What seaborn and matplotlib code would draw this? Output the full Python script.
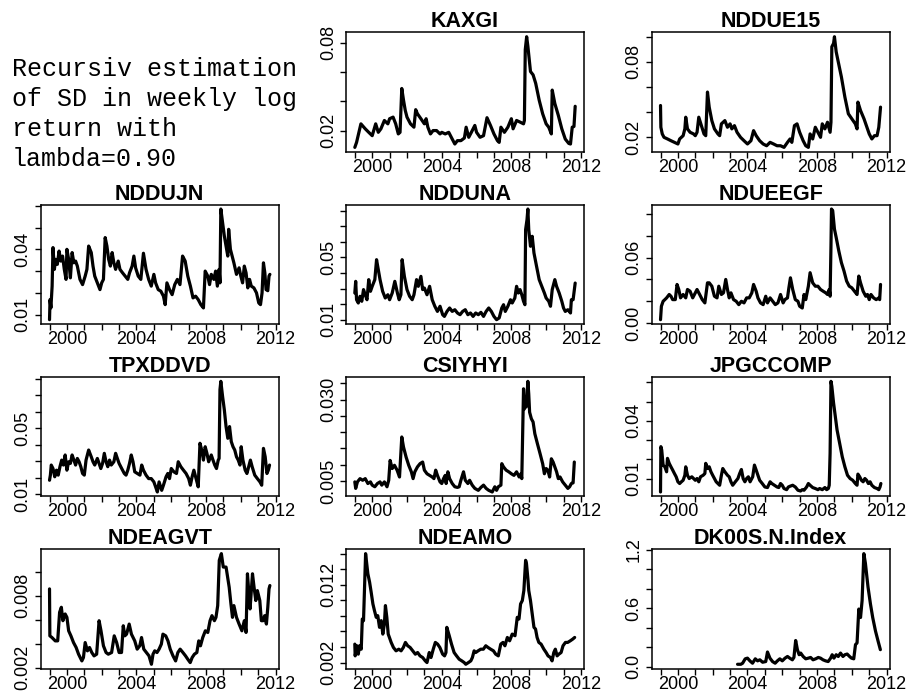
import numpy as np
import pandas as pd
import matplotlib
matplotlib.use("Agg")
import matplotlib.pyplot as plt
import seaborn as sns

# ---------------- data (decimal year, recursive SD) ----------------
KAXGI = [(1999.0,0.0085),(1999.1,0.0119),(1999.35,0.0246),(1999.6,0.0212),(1999.8,0.0188),(2000.0,0.0165),(2000.2,0.0246),(2000.35,0.0188),(2000.5,0.0212),(2000.7,0.0269),(2000.9,0.0246),(2001.0,0.0281),(2001.2,0.0292),(2001.35,0.0246),(2001.5,0.0177),(2001.6,0.0188),(2001.7,0.0488),(2001.8,0.0408),(2001.9,0.0338),(2002.0,0.0292),(2002.2,0.0246),(2002.4,0.0223),(2002.5,0.0343),(2002.6,0.0315),(2002.8,0.0281),(2003.0,0.0246),(2003.1,0.0281),(2003.2,0.0223),(2003.35,0.0177),(2003.5,0.0200),(2003.7,0.0200),(2003.9,0.0177),(2004.0,0.0188),(2004.2,0.0177),(2004.4,0.0188),(2004.6,0.0142),(2004.75,0.0108),(2004.9,0.0131),(2005.1,0.0131),(2005.3,0.0149),(2005.4,0.0223),(2005.55,0.0154),(2005.7,0.0188),(2005.9,0.0235),(2006.0,0.0188),(2006.2,0.0154),(2006.4,0.0165),(2006.6,0.0288),(2006.8,0.0235),(2007.0,0.0177),(2007.2,0.0131),(2007.3,0.0119),(2007.4,0.0223),(2007.6,0.0188),(2007.8,0.0223),(2008.0,0.0281),(2008.1,0.0212),(2008.3,0.0269),(2008.5,0.0258),(2008.7,0.0246),(2008.75,0.0269),(2008.8,0.0754),(2008.88,0.0842),(2008.95,0.0777),(2009.1,0.0604),(2009.25,0.0581),(2009.4,0.0523),(2009.6,0.0408),(2009.8,0.0315),(2010.0,0.0246),(2010.15,0.0223),(2010.3,0.0177),(2010.35,0.0477),(2010.5,0.0385),(2010.7,0.0304),(2010.9,0.0212),(2011.1,0.0142),(2011.3,0.0112),(2011.4,0.0108),(2011.5,0.0223),(2011.6,0.0228),(2011.67,0.0366)]

NDDUE15 = [(1999.0,0.0453),(1999.02,0.028),(1999.1,0.0227),(1999.2,0.020),(1999.4,0.0187),(1999.6,0.0173),(1999.8,0.016),(2000.0,0.0147),(2000.1,0.0187),(2000.3,0.0213),(2000.4,0.0267),(2000.45,0.036),(2000.55,0.0267),(2000.7,0.024),(2000.9,0.0227),(2001.0,0.0213),(2001.1,0.024),(2001.2,0.036),(2001.35,0.0293),(2001.5,0.0227),(2001.6,0.0213),(2001.7,0.056),(2001.8,0.044),(2001.95,0.0333),(2002.1,0.0267),(2002.3,0.0227),(2002.4,0.0213),(2002.5,0.0307),(2002.7,0.0333),(2002.85,0.028),(2003.0,0.0307),(2003.1,0.0267),(2003.25,0.0293),(2003.4,0.024),(2003.6,0.020),(2003.8,0.0173),(2004.0,0.0147),(2004.2,0.0173),(2004.35,0.0253),(2004.5,0.0213),(2004.7,0.0173),(2004.9,0.0147),(2005.1,0.0133),(2005.3,0.016),(2005.5,0.0147),(2005.7,0.0133),(2005.9,0.0133),(2006.1,0.012),(2006.3,0.016),(2006.45,0.0187),(2006.55,0.016),(2006.7,0.0293),(2006.85,0.0307),(2007.0,0.024),(2007.2,0.0173),(2007.35,0.0133),(2007.5,0.012),(2007.6,0.0227),(2007.75,0.0187),(2007.9,0.028),(2008.05,0.024),(2008.2,0.020),(2008.3,0.0307),(2008.45,0.0267),(2008.6,0.032),(2008.75,0.024),(2008.8,0.032),(2008.85,0.092),(2008.95,0.0947),(2009.0,0.100),(2009.1,0.088),(2009.2,0.0813),(2009.4,0.068),(2009.6,0.052),(2009.8,0.0387),(2010.0,0.0347),(2010.2,0.0307),(2010.3,0.0267),(2010.35,0.048),(2010.5,0.0413),(2010.7,0.0347),(2010.9,0.0267),(2011.0,0.0227),(2011.15,0.0187),(2011.3,0.0213),(2011.45,0.0213),(2011.55,0.028),(2011.65,0.044)]

NDDUJN = [(1999.0,0.0077),(1999.03,0.0169),(1999.08,0.0131),(1999.15,0.0231),(1999.2,0.0408),(1999.28,0.0308),(1999.35,0.0354),(1999.45,0.0331),(1999.55,0.0392),(1999.65,0.0346),(1999.75,0.0369),(1999.85,0.0308),(1999.95,0.0262),(2000.0,0.040),(2000.1,0.0354),(2000.2,0.0269),(2000.3,0.0385),(2000.4,0.0338),(2000.5,0.0346),(2000.6,0.0323),(2000.75,0.0262),(2000.9,0.0238),(2001.05,0.0277),(2001.15,0.0308),(2001.25,0.0415),(2001.4,0.0385),(2001.5,0.0323),(2001.6,0.0277),(2001.75,0.0246),(2001.9,0.0215),(2002.0,0.0246),(2002.1,0.0262),(2002.2,0.0454),(2002.3,0.0415),(2002.4,0.0354),(2002.5,0.0323),(2002.6,0.0385),(2002.7,0.0338),(2002.8,0.0308),(2002.95,0.0346),(2003.05,0.0308),(2003.2,0.0292),(2003.35,0.0277),(2003.5,0.0262),(2003.6,0.0292),(2003.75,0.0323),(2003.85,0.0369),(2003.95,0.0315),(2004.1,0.0277),(2004.25,0.0262),(2004.4,0.0382),(2004.55,0.0308),(2004.7,0.0262),(2004.85,0.0231),(2005.0,0.0285),(2005.1,0.0246),(2005.25,0.0215),(2005.4,0.0208),(2005.55,0.0185),(2005.65,0.0146),(2005.75,0.0246),(2005.9,0.0215),(2006.05,0.0192),(2006.2,0.0238),(2006.35,0.0262),(2006.5,0.0238),(2006.65,0.0369),(2006.8,0.0346),(2006.95,0.0277),(2007.1,0.0231),(2007.25,0.0177),(2007.4,0.0185),(2007.55,0.0169),(2007.7,0.0146),(2007.85,0.0131),(2007.95,0.030),(2008.1,0.0277),(2008.2,0.0238),(2008.3,0.0285),(2008.45,0.0262),(2008.55,0.030),(2008.65,0.0231),(2008.75,0.0308),(2008.8,0.0246),(2008.85,0.0585),(2008.95,0.0523),(2009.05,0.0462),(2009.15,0.0415),(2009.25,0.0369),(2009.3,0.0492),(2009.4,0.040),(2009.5,0.0369),(2009.6,0.0338),(2009.75,0.0285),(2009.9,0.0315),(2010.0,0.0277),(2010.1,0.0246),(2010.2,0.0323),(2010.3,0.0292),(2010.4,0.0223),(2010.5,0.0262),(2010.6,0.0231),(2010.75,0.0223),(2010.9,0.020),(2011.03,0.0154),(2011.13,0.0146),(2011.22,0.020),(2011.3,0.0338),(2011.38,0.0292),(2011.45,0.0215),(2011.55,0.021),(2011.62,0.0277),(2011.67,0.0285)]

NDDUNA = [(1999.0,0.0271),(1999.05,0.0346),(1999.1,0.0228),(1999.2,0.0207),(1999.3,0.025),(1999.4,0.0218),(1999.5,0.0293),(1999.6,0.026),(1999.7,0.0228),(1999.8,0.0357),(1999.9,0.0282),(2000.0,0.0314),(2000.15,0.0357),(2000.25,0.0485),(2000.35,0.0421),(2000.45,0.0357),(2000.6,0.0282),(2000.75,0.0239),(2000.9,0.026),(2001.0,0.0228),(2001.15,0.0271),(2001.3,0.0346),(2001.45,0.0271),(2001.55,0.0228),(2001.65,0.026),(2001.72,0.0485),(2001.85,0.0378),(2002.0,0.0293),(2002.15,0.025),(2002.3,0.0228),(2002.4,0.026),(2002.55,0.0357),(2002.65,0.0314),(2002.8,0.0378),(2002.9,0.0293),(2003.0,0.0303),(2003.15,0.026),(2003.3,0.0314),(2003.45,0.0228),(2003.6,0.0186),(2003.75,0.0153),(2003.9,0.0186),(2004.05,0.0132),(2004.15,0.0121),(2004.3,0.0153),(2004.45,0.0175),(2004.6,0.0153),(2004.75,0.0164),(2004.9,0.0143),(2005.05,0.0132),(2005.2,0.0153),(2005.35,0.0164),(2005.5,0.0132),(2005.65,0.0143),(2005.8,0.0121),(2005.95,0.0143),(2006.1,0.0132),(2006.25,0.0147),(2006.4,0.0121),(2006.55,0.0153),(2006.7,0.0175),(2006.85,0.0153),(2007.0,0.0121),(2007.15,0.010),(2007.3,0.0111),(2007.45,0.0175),(2007.55,0.0196),(2007.65,0.0153),(2007.8,0.0186),(2007.95,0.0228),(2008.05,0.0207),(2008.2,0.0239),(2008.3,0.0314),(2008.4,0.0271),(2008.5,0.0293),(2008.6,0.026),(2008.7,0.0218),(2008.78,0.0196),(2008.82,0.0678),(2008.9,0.0742),(2008.95,0.081),(2009.0,0.0678),(2009.1,0.0571),(2009.2,0.0635),(2009.3,0.0528),(2009.45,0.0442),(2009.6,0.0357),(2009.75,0.0314),(2009.9,0.0271),(2010.0,0.0239),(2010.15,0.0218),(2010.25,0.0186),(2010.35,0.0293),(2010.5,0.0357),(2010.6,0.0314),(2010.75,0.0271),(2010.9,0.0218),(2011.0,0.0175),(2011.1,0.0153),(2011.25,0.0164),(2011.4,0.0143),(2011.45,0.0228),(2011.55,0.0228),(2011.67,0.0335)]

NDUEEGF = [(1999.0,0.0031),(1999.05,0.0154),(1999.15,0.020),(1999.25,0.0215),(1999.35,0.0231),(1999.5,0.0262),(1999.6,0.0246),(1999.7,0.0215),(1999.85,0.0215),(1999.95,0.0354),(2000.05,0.0308),(2000.15,0.0231),(2000.3,0.0262),(2000.45,0.0231),(2000.55,0.0308),(2000.7,0.0292),(2000.85,0.0231),(2001.0,0.0277),(2001.1,0.0308),(2001.25,0.0262),(2001.4,0.0215),(2001.55,0.0185),(2001.7,0.0369),(2001.8,0.0369),(2001.95,0.0338),(2002.1,0.0246),(2002.25,0.0231),(2002.35,0.0338),(2002.5,0.0262),(2002.62,0.0277),(2002.75,0.040),(2002.85,0.0308),(2002.95,0.0231),(2003.05,0.0277),(2003.2,0.0215),(2003.35,0.020),(2003.5,0.0169),(2003.65,0.020),(2003.8,0.0185),(2003.95,0.0231),(2004.1,0.0231),(2004.25,0.0277),(2004.35,0.0354),(2004.5,0.0292),(2004.6,0.0231),(2004.75,0.0185),(2004.9,0.0169),(2005.05,0.0246),(2005.15,0.0185),(2005.3,0.0231),(2005.45,0.020),(2005.6,0.0169),(2005.75,0.0185),(2005.9,0.0262),(2006.05,0.0185),(2006.15,0.0215),(2006.3,0.0231),(2006.38,0.0323),(2006.47,0.0415),(2006.6,0.0308),(2006.75,0.0215),(2006.9,0.0200),(2007.0,0.0154),(2007.15,0.0138),(2007.25,0.0262),(2007.35,0.0215),(2007.5,0.0338),(2007.6,0.0462),(2007.75,0.0369),(2007.9,0.0338),(2008.05,0.0338),(2008.2,0.0308),(2008.35,0.0292),(2008.5,0.0277),(2008.6,0.0262),(2008.7,0.0308),(2008.75,0.0246),(2008.8,0.0708),(2008.83,0.1046),(2008.9,0.1031),(2009.0,0.0862),(2009.1,0.0785),(2009.25,0.0662),(2009.4,0.0554),(2009.55,0.0477),(2009.7,0.0385),(2009.85,0.0338),(2010.0,0.0323),(2010.15,0.0292),(2010.3,0.0262),(2010.4,0.0431),(2010.5,0.0369),(2010.65,0.0292),(2010.8,0.0246),(2010.9,0.0262),(2011.0,0.0215),(2011.1,0.0262),(2011.25,0.0231),(2011.4,0.0215),(2011.55,0.0231),(2011.6,0.0215),(2011.65,0.0354)]

TPXDDVD = [(1999.0,0.0185),(1999.05,0.0216),(1999.1,0.0277),(1999.2,0.0256),(1999.3,0.0206),(1999.4,0.0246),(1999.5,0.0216),(1999.6,0.0267),(1999.7,0.0307),(1999.8,0.0277),(1999.9,0.0338),(2000.0,0.0246),(2000.1,0.0297),(2000.2,0.0287),(2000.3,0.0338),(2000.4,0.0307),(2000.5,0.0277),(2000.6,0.0317),(2000.7,0.0297),(2000.8,0.0267),(2000.9,0.0226),(2001.0,0.0216),(2001.1,0.0307),(2001.2,0.0348),(2001.25,0.0368),(2001.4,0.0327),(2001.5,0.0297),(2001.6,0.0277),(2001.75,0.0317),(2001.85,0.0287),(2001.95,0.0256),(2002.05,0.0287),(2002.15,0.0348),(2002.25,0.0297),(2002.35,0.0267),(2002.45,0.0307),(2002.55,0.0277),(2002.7,0.0297),(2002.8,0.0348),(2002.9,0.0317),(2003.0,0.0287),(2003.15,0.0256),(2003.3,0.0226),(2003.4,0.0216),(2003.5,0.0246),(2003.6,0.0287),(2003.7,0.0338),(2003.8,0.0297),(2003.9,0.0236),(2004.05,0.0226),(2004.2,0.0216),(2004.3,0.0277),(2004.4,0.0246),(2004.55,0.0216),(2004.7,0.0195),(2004.85,0.0195),(2005.0,0.0175),(2005.1,0.0145),(2005.2,0.0114),(2005.3,0.0175),(2005.45,0.0124),(2005.55,0.0155),(2005.7,0.0206),(2005.8,0.0226),(2005.9,0.0195),(2006.0,0.0256),(2006.15,0.0236),(2006.3,0.0226),(2006.4,0.0297),(2006.55,0.0267),(2006.7,0.0246),(2006.85,0.0226),(2007.0,0.0195),(2007.1,0.0155),(2007.2,0.0206),(2007.3,0.0246),(2007.45,0.0185),(2007.55,0.0145),(2007.65,0.0409),(2007.75,0.0368),(2007.85,0.0307),(2007.95,0.0388),(2008.05,0.0348),(2008.15,0.0297),(2008.3,0.0338),(2008.4,0.0307),(2008.5,0.0277),(2008.6,0.0256),(2008.7,0.0307),(2008.75,0.0317),(2008.8,0.0734),(2008.85,0.0784),(2008.95,0.0693),(2009.05,0.0612),(2009.15,0.051),(2009.25,0.0439),(2009.35,0.051),(2009.45,0.0419),(2009.55,0.0388),(2009.65,0.0368),(2009.75,0.0327),(2009.85,0.0307),(2009.95,0.0277),(2010.02,0.0388),(2010.12,0.0307),(2010.25,0.0246),(2010.35,0.0226),(2010.55,0.0307),(2010.65,0.0267),(2010.8,0.0216),(2010.95,0.0195),(2011.1,0.0175),(2011.2,0.0155),(2011.3,0.0378),(2011.4,0.0327),(2011.5,0.0226),(2011.58,0.0246),(2011.65,0.0277)]

CSIYHYI = [(1999.0,0.0047),(1999.05,0.0027),(1999.15,0.0047),(1999.3,0.0057),(1999.45,0.0052),(1999.6,0.0057),(1999.75,0.0042),(1999.9,0.0047),(2000.0,0.0037),(2000.15,0.0032),(2000.3,0.0042),(2000.45,0.0047),(2000.55,0.0037),(2000.7,0.0047),(2000.85,0.0032),(2000.95,0.0052),(2001.03,0.0113),(2001.15,0.0088),(2001.28,0.0098),(2001.43,0.0083),(2001.57,0.0062),(2001.7,0.0185),(2001.8,0.0154),(2001.95,0.0123),(2002.1,0.0098),(2002.25,0.0078),(2002.35,0.0057),(2002.45,0.0078),(2002.6,0.0093),(2002.75,0.0103),(2002.9,0.0108),(2003.0,0.0083),(2003.15,0.0072),(2003.3,0.0067),(2003.45,0.0062),(2003.55,0.0057),(2003.65,0.0083),(2003.75,0.0067),(2003.9,0.0047),(2004.0,0.0042),(2004.1,0.0057),(2004.2,0.0067),(2004.25,0.0042),(2004.35,0.0078),(2004.45,0.0057),(2004.6,0.0042),(2004.75,0.0032),(2004.9,0.0030),(2005.0,0.0032),(2005.1,0.0052),(2005.25,0.0078),(2005.35,0.0052),(2005.5,0.0042),(2005.6,0.0052),(2005.75,0.0037),(2005.9,0.0027),(2006.1,0.0021),(2006.25,0.0030),(2006.4,0.0037),(2006.55,0.0027),(2006.7,0.0021),(2006.9,0.0016),(2007.05,0.0032),(2007.15,0.0021),(2007.25,0.0032),(2007.4,0.0037),(2007.45,0.0103),(2007.55,0.0093),(2007.7,0.0083),(2007.85,0.0078),(2008.0,0.0072),(2008.15,0.0067),(2008.3,0.0078),(2008.45,0.0062),(2008.55,0.0072),(2008.6,0.0057),(2008.7,0.0333),(2008.75,0.0271),(2008.8,0.0307),(2008.85,0.0277),(2008.9,0.0312),(2008.95,0.0356),(2009.0,0.0317),(2009.05,0.0261),(2009.15,0.0241),(2009.25,0.0231),(2009.35,0.0195),(2009.5,0.0164),(2009.65,0.0134),(2009.8,0.0103),(2009.9,0.0072),(2010.0,0.0088),(2010.1,0.0083),(2010.2,0.0062),(2010.3,0.0118),(2010.4,0.0108),(2010.5,0.0093),(2010.6,0.0078),(2010.7,0.0057),(2010.8,0.0062),(2010.95,0.0047),(2011.1,0.0037),(2011.25,0.0027),(2011.35,0.0032),(2011.45,0.0042),(2011.55,0.0044),(2011.62,0.0108)]

JPGCCOMP = [(1999.0,0.0030),(1999.02,0.0266),(1999.07,0.0248),(1999.15,0.0170),(1999.25,0.0161),(1999.35,0.0135),(1999.4,0.0205),(1999.5,0.0179),(1999.6,0.0161),(1999.7,0.0144),(1999.8,0.0126),(1999.9,0.0109),(2000.0,0.0083),(2000.1,0.0074),(2000.2,0.0083),(2000.3,0.0091),(2000.4,0.0117),(2000.45,0.0161),(2000.55,0.0117),(2000.65,0.0100),(2000.8,0.0109),(2000.9,0.0100),(2001.0,0.0091),(2001.1,0.0100),(2001.2,0.0083),(2001.3,0.0109),(2001.45,0.0117),(2001.55,0.0126),(2001.6,0.0179),(2001.7,0.0152),(2001.8,0.0161),(2001.9,0.0135),(2002.0,0.0117),(2002.1,0.0100),(2002.2,0.0083),(2002.3,0.0074),(2002.4,0.0065),(2002.5,0.0117),(2002.58,0.0152),(2002.7,0.0135),(2002.85,0.0117),(2002.95,0.0109),(2003.05,0.0083),(2003.15,0.0065),(2003.3,0.0083),(2003.45,0.0100),(2003.55,0.0126),(2003.65,0.0147),(2003.75,0.0100),(2003.85,0.0083),(2003.95,0.0100),(2004.05,0.0109),(2004.15,0.0083),(2004.3,0.0109),(2004.4,0.0170),(2004.5,0.0144),(2004.6,0.0117),(2004.7,0.0091),(2004.85,0.0074),(2005.0,0.0056),(2005.15,0.0053),(2005.3,0.0083),(2005.4,0.0074),(2005.55,0.0065),(2005.7,0.0056),(2005.8,0.0053),(2005.9,0.0074),(2006.0,0.0065),(2006.1,0.0048),(2006.25,0.0042),(2006.35,0.0056),(2006.45,0.0060),(2006.6,0.0065),(2006.75,0.0056),(2006.9,0.0039),(2007.05,0.0035),(2007.15,0.0042),(2007.25,0.0039),(2007.4,0.0056),(2007.5,0.0074),(2007.6,0.0065),(2007.75,0.0053),(2007.9,0.0048),(2008.05,0.0042),(2008.15,0.0048),(2008.3,0.0042),(2008.45,0.0053),(2008.55,0.0042),(2008.65,0.0048),(2008.7,0.0065),(2008.75,0.0231),(2008.8,0.0606),(2008.85,0.0580),(2008.95,0.0493),(2009.05,0.0423),(2009.15,0.0353),(2009.3,0.0283),(2009.45,0.0213),(2009.6,0.0161),(2009.75,0.0117),(2009.9,0.0100),(2010.05,0.0091),(2010.2,0.0074),(2010.3,0.0065),(2010.35,0.0123),(2010.45,0.0109),(2010.55,0.0091),(2010.65,0.0083),(2010.75,0.0100),(2010.85,0.0091),(2010.95,0.0074),(2011.05,0.0083),(2011.15,0.0065),(2011.3,0.0053),(2011.45,0.0048),(2011.55,0.0042),(2011.62,0.0056),(2011.67,0.0074)]

NDEAGVT = [(1999.0,0.00856),(1999.02,0.00465),(1999.14,0.00451),(1999.33,0.00423),(1999.47,0.00423),(1999.58,0.00661),(1999.68,0.00703),(1999.77,0.00591),(1999.9,0.00647),(2000.0,0.00619),(2000.1,0.00507),(2000.23,0.00465),(2000.38,0.00409),(2000.53,0.00368),(2000.67,0.00312),(2000.86,0.00256),(2000.95,0.00284),(2001.05,0.00409),(2001.18,0.00340),(2001.3,0.00368),(2001.43,0.00326),(2001.56,0.00298),(2001.71,0.00312),(2001.85,0.00591),(2001.96,0.00507),(2002.1,0.00382),(2002.25,0.00326),(2002.38,0.00312),(2002.57,0.00326),(2002.72,0.00465),(2002.86,0.00409),(2003.0,0.00326),(2003.14,0.00326),(2003.24,0.00549),(2003.33,0.00465),(2003.43,0.00479),(2003.58,0.00563),(2003.71,0.00479),(2003.9,0.00423),(2004.04,0.00354),(2004.19,0.00382),(2004.29,0.00451),(2004.42,0.00354),(2004.57,0.00326),(2004.72,0.00298),(2004.86,0.00228),(2004.95,0.00312),(2005.05,0.00340),(2005.18,0.00326),(2005.3,0.00354),(2005.43,0.00396),(2005.52,0.00479),(2005.68,0.00465),(2005.81,0.00423),(2005.94,0.00354),(2006.1,0.00298),(2006.25,0.00256),(2006.38,0.00326),(2006.51,0.00354),(2006.67,0.00326),(2006.82,0.00298),(2006.95,0.00270),(2007.09,0.00242),(2007.2,0.00284),(2007.33,0.00312),(2007.47,0.00326),(2007.58,0.00423),(2007.68,0.00382),(2007.81,0.00451),(2007.96,0.00507),(2008.1,0.00493),(2008.23,0.00591),(2008.34,0.00633),(2008.48,0.00591),(2008.57,0.00619),(2008.67,0.00717),(2008.76,0.01094),(2008.88,0.01150),(2008.99,0.01038),(2009.15,0.01038),(2009.33,0.00870),(2009.43,0.00731),(2009.52,0.00619),(2009.6,0.00717),(2009.75,0.00619),(2009.9,0.00563),(2010.06,0.00507),(2010.2,0.00591),(2010.3,0.00493),(2010.38,0.00982),(2010.48,0.00787),(2010.53,0.00689),(2010.67,0.00982),(2010.76,0.00870),(2010.86,0.00759),(2010.95,0.00842),(2011.09,0.00759),(2011.18,0.00591),(2011.28,0.00591),(2011.37,0.00633),(2011.47,0.00563),(2011.55,0.00703),(2011.62,0.00856),(2011.67,0.00884)]

NDEAMO = [(1999.0,0.00437),(1999.02,0.00286),(1999.12,0.00416),(1999.2,0.00308),(1999.27,0.00416),(1999.37,0.00372),(1999.43,0.00760),(1999.5,0.00739),(1999.62,0.01601),(1999.75,0.01342),(1999.85,0.01234),(1999.94,0.01105),(2000.04,0.00954),(2000.13,0.00868),(2000.23,0.00782),(2000.32,0.00803),(2000.42,0.00653),(2000.52,0.00739),(2000.61,0.00566),(2000.7,0.00696),(2000.76,0.00933),(2000.84,0.00782),(2000.92,0.00566),(2000.99,0.00523),(2001.09,0.00459),(2001.22,0.00394),(2001.37,0.00351),(2001.53,0.00372),(2001.66,0.00351),(2001.79,0.00394),(2001.91,0.00459),(2002.04,0.00416),(2002.18,0.00394),(2002.33,0.00351),(2002.48,0.00308),(2002.61,0.00329),(2002.75,0.00286),(2002.9,0.00265),(2003.05,0.00222),(2003.15,0.00200),(2003.28,0.00329),(2003.38,0.00265),(2003.51,0.00372),(2003.63,0.00459),(2003.76,0.00437),(2003.89,0.00394),(2004.05,0.00308),(2004.16,0.00286),(2004.24,0.00329),(2004.29,0.00653),(2004.43,0.00545),(2004.56,0.00437),(2004.71,0.00329),(2004.85,0.00286),(2005.0,0.00243),(2005.15,0.00222),(2005.29,0.00200),(2005.38,0.00178),(2005.53,0.00200),(2005.67,0.00222),(2005.76,0.00265),(2005.86,0.00351),(2005.95,0.00329),(2006.09,0.00351),(2006.24,0.00372),(2006.39,0.00372),(2006.53,0.00416),(2006.66,0.00394),(2006.81,0.00372),(2006.97,0.00351),(2007.1,0.00308),(2007.25,0.00286),(2007.39,0.00437),(2007.52,0.00459),(2007.63,0.00416),(2007.77,0.00523),(2007.9,0.00480),(2008.05,0.00566),(2008.21,0.00545),(2008.34,0.00782),(2008.44,0.00760),(2008.53,0.00954),(2008.63,0.00997),(2008.72,0.01127),(2008.82,0.01515),(2008.87,0.01472),(2008.95,0.01278),(2009.0,0.01127),(2009.1,0.00997),(2009.2,0.00825),(2009.3,0.00653),(2009.39,0.00631),(2009.48,0.00523),(2009.58,0.00459),(2009.71,0.00437),(2009.87,0.00372),(2010.0,0.00329),(2010.11,0.00286),(2010.25,0.00265),(2010.34,0.00222),(2010.44,0.00329),(2010.53,0.00372),(2010.63,0.00286),(2010.73,0.00308),(2010.86,0.00329),(2010.97,0.00416),(2011.11,0.00459),(2011.24,0.00459),(2011.39,0.00480),(2011.53,0.00502),(2011.64,0.00523)]

DK00S = [(2003.43,0.024),(2003.62,0.024),(2003.72,0.035),(2003.87,0.080),(2004.0,0.087),(2004.14,0.059),(2004.29,0.035),(2004.45,0.080),(2004.58,0.059),(2004.71,0.070),(2004.87,0.045),(2005.05,0.052),(2005.15,0.150),(2005.29,0.087),(2005.44,0.052),(2005.59,0.035),(2005.72,0.059),(2005.86,0.080),(2006.0,0.059),(2006.16,0.087),(2006.3,0.104),(2006.43,0.087),(2006.58,0.070),(2006.67,0.094),(2006.77,0.268),(2006.87,0.174),(2006.97,0.122),(2007.06,0.139),(2007.2,0.104),(2007.35,0.080),(2007.5,0.087),(2007.63,0.094),(2007.77,0.070),(2007.92,0.080),(2008.07,0.094),(2008.2,0.087),(2008.34,0.070),(2008.49,0.059),(2008.64,0.052),(2008.78,0.087),(2008.87,0.122),(2008.97,0.087),(2009.1,0.122),(2009.22,0.104),(2009.35,0.139),(2009.49,0.104),(2009.6,0.122),(2009.73,0.129),(2009.87,0.104),(2009.98,0.087),(2010.11,0.080),(2010.21,0.226),(2010.3,0.243),(2010.4,0.591),(2010.5,0.504),(2010.59,0.678),(2010.69,1.160),(2010.78,1.061),(2010.93,0.817),(2011.07,0.643),(2011.2,0.504),(2011.36,0.365),(2011.51,0.261),(2011.64,0.174)]

titles = ["KAXGI", "NDDUE15", "NDDUJN", "NDDUNA", "NDUEEGF", "TPXDDVD",
          "CSIYHYI", "JPGCCOMP", "NDEAGVT", "NDEAMO", "DK00S.N.Index"]
series = [KAXGI, NDDUE15, NDDUJN, NDDUNA, NDUEEGF, TPXDDVD,
          CSIYHYI, JPGCCOMP, NDEAGVT, NDEAMO, DK00S]
y_ticks = [
    [0.02, 0.04, 0.06, 0.08],
    [0.02, 0.04, 0.06, 0.08, 0.10],
    [0.01, 0.02, 0.03, 0.04, 0.05, 0.06],
    [0.01, 0.02, 0.03, 0.04, 0.05, 0.06, 0.07, 0.08],
    [0.00, 0.02, 0.04, 0.06, 0.08, 0.10],
    [0.01, 0.02, 0.03, 0.04, 0.05, 0.06, 0.07, 0.08],
    [0.005, 0.010, 0.015, 0.020, 0.025, 0.030, 0.035],
    [0.01, 0.02, 0.03, 0.04, 0.05, 0.06],
    [0.002, 0.004, 0.006, 0.008, 0.010],
    [0.002, 0.004, 0.006, 0.008, 0.010, 0.012, 0.014, 0.016],
    [0.0, 0.2, 0.4, 0.6, 0.8, 1.0, 1.2],
]
y_labels = [
    ["0.02", "", "", "0.08"],
    ["0.02", "", "", "0.08", ""],
    ["0.01", "", "", "0.04", "", ""],
    ["0.01", "", "", "", "0.05", "", "", ""],
    ["0.00", "", "", "0.06", "", ""],
    ["0.01", "", "", "", "0.05", "", "", ""],
    ["0.005", "", "", "", "", "0.030", ""],
    ["0.01", "", "", "0.04", "", ""],
    ["0.002", "", "", "0.008", ""],
    ["0.002", "", "", "", "", "0.012", "", ""],
    ["0.0", "", "", "0.6", "", "", "1.2"],
]
x_ticks = list(range(1999, 2013))
x_labels = ["", "2000", "", "", "", "2004", "", "", "", "2008", "", "", "", "2012"]
note_lines = ["Recursiv estimation", "of SD in weekly log", "return with", "lambda=0.90"]

# ---------------- styling ----------------
sns.set_theme(style="ticks")
plt.rcParams["font.family"] = ["Liberation Sans", "DejaVu Sans"]
plt.rcParams["text.color"] = "black"
plt.rcParams["axes.titlecolor"] = "black"
plt.rcParams["axes.edgecolor"] = "black"
plt.rcParams["axes.linewidth"] = 1.0
plt.rcParams["xtick.color"] = "black"
plt.rcParams["ytick.color"] = "black"
plt.rcParams["xtick.labelcolor"] = "black"
plt.rcParams["ytick.labelcolor"] = "black"

W, H = 913.0, 693.0
fig = plt.figure(figsize=(W / 100, H / 100), dpi=100)
fig.patch.set_facecolor("white")

col_left = [40.7, 346.0, 651.7]
row_top = [32.3, 204.6, 376.9, 549.2]
box_w, box_h = 238.0, 119.5

# shared x range (R style 4% padding)
all_t = [t for s in series for t, _ in s]
tmin, tmax = min(all_t), max(all_t)
tpad = 0.04 * (tmax - tmin)

for k, (name, data, yt, yl) in enumerate(zip(titles, series, y_ticks, y_labels), start=1):
    r, c = divmod(k, 3)
    ax = fig.add_axes([col_left[c] / W, 1 - (row_top[r] + box_h) / H, box_w / W, box_h / H])
    df = pd.DataFrame(data, columns=["year", "sd"])
    sns.lineplot(data=df, x="year", y="sd", ax=ax, color="black", linewidth=2.3,
                 estimator=None, sort=False)
    ax.set_xlabel("")
    ax.set_ylabel("")
    ax.set_xticks(x_ticks)
    ax.set_xticklabels(x_labels)
    ax.set_yticks(yt)
    ax.set_yticklabels(yl)
    ax.set_xlim(tmin - tpad, tmax + tpad)
    lo, hi = df["sd"].min(), df["sd"].max()
    ypad = 0.04 * (hi - lo)
    ax.set_ylim(lo - ypad, hi + ypad)
    for sp in ax.spines.values():
        sp.set_visible(True)
        sp.set_color("black")
        sp.set_linewidth(1.1)
    ax.tick_params(axis="both", direction="out", length=4.5, width=1.0,
                   labelsize=13, colors="black", labelcolor="black")
    ax.tick_params(axis="x", pad=0.5)
    ax.tick_params(axis="y", pad=2.0, labelrotation=90)
    for lab in ax.get_yticklabels():
        lab.set_va("center")
    ax.set_title(name, fontsize=15.5, fontweight="bold", pad=1.5, color="black")
    ax.grid(False)

# text panel in the first slot
for i, line in enumerate(note_lines):
    fig.text(11.7 / W, 1 - (76 + 30 * i) / H, line, family=["Liberation Mono", "DejaVu Sans Mono"],
             fontsize=18, va="baseline", ha="left", color="black")

fig.savefig("out.png", dpi=100)
